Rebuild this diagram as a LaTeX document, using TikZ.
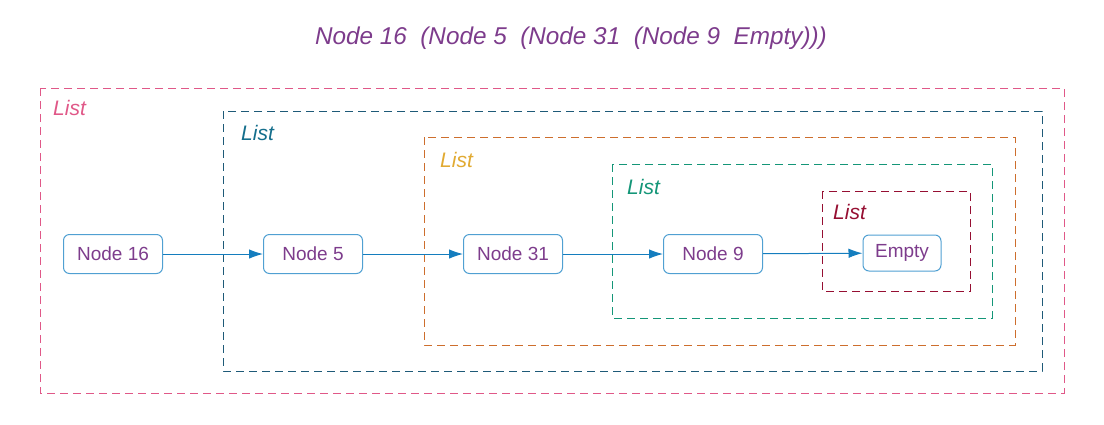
\documentclass[tikz,border=0pt]{standalone}
\usepackage{fontspec}
\setmainfont{Liberation Sans}
\usetikzlibrary{arrows.meta}

\definecolor{txtc}{RGB}{125,60,140}
\definecolor{cellc}{RGB}{80,160,210}
\definecolor{linkc}{RGB}{20,125,190}
\definecolor{pinkc}{RGB}{224,88,136}
\definecolor{slatec}{RGB}{30,90,120}
\definecolor{slatetxt}{RGB}{20,110,140}
\definecolor{orangec}{RGB}{205,110,45}
\definecolor{goldc}{RGB}{225,170,50}
\definecolor{greenc}{RGB}{20,150,120}
\definecolor{wine}{RGB}{150,15,50}

\begin{document}
\begin{tikzpicture}[x=1pt, y=-1pt, >={Latex[length=14pt,width=9.5pt]},
  font=\fontsize{19}{22}\selectfont,
  cell/.style={draw=cellc, rounded corners=6pt, line width=1pt, text=txtc, minimum width=99pt, minimum height=39pt, inner sep=0pt},
  frame/.style={dash pattern=on 8pt off 5pt, line width=1pt},
  lbl/.style={anchor=west, inner sep=0pt, font=\fontsize{21}{24}\selectfont\itshape},
  link/.style={->, draw=linkc, line width=1pt}]

\useasboundingbox (0,0) rectangle (1104,424);

\node[text=txtc, font=\fontsize{24.3}{28}\selectfont\itshape] (title) at (571,38) {Node 16\ \ (Node 5\ \ (Node 31\ \ (Node 9\ \ Empty)))};

\draw[frame, draw=pinkc] (40,88) rectangle (1064,393); %outer list
\node[lbl, text=pinkc] (lst1) at (53,108) {List};

\draw[frame, draw=slatec] (223,111) rectangle (1042,371);
\node[lbl, text=slatetxt] (lst2) at (241,133) {List};

\draw[frame, draw=orangec] (424,137) rectangle (1015,345);
\node[lbl, text=goldc] (lst3) at (440,160) {List};

\draw[frame, draw=greenc] (612,164) rectangle (992,318);
\node[lbl, text=greenc] (lst4) at (627,187) {List};

\draw[frame, draw=wine] (822,191) rectangle (970,291); %empty list
\node[lbl, text=wine] (lst5) at (833,212) {List};

\node[cell] (n16) at (113,254) {Node 16};
\node[cell] (n5) at (313,254) {Node 5};
\node[cell] (n31) at (513,254) {Node 31};
\node[cell] (n9) at (713,254) {Node 9};
\node[cell, minimum width=78pt, minimum height=36pt] (empty) at (902,253) {Empty};

\draw[link] (n16) -- (n5);
\draw[link] (n5) -- (n31);
\draw[link] (n31) -- (n9);
\draw[link] (n9) -- (empty);

\end{tikzpicture}
\end{document}
